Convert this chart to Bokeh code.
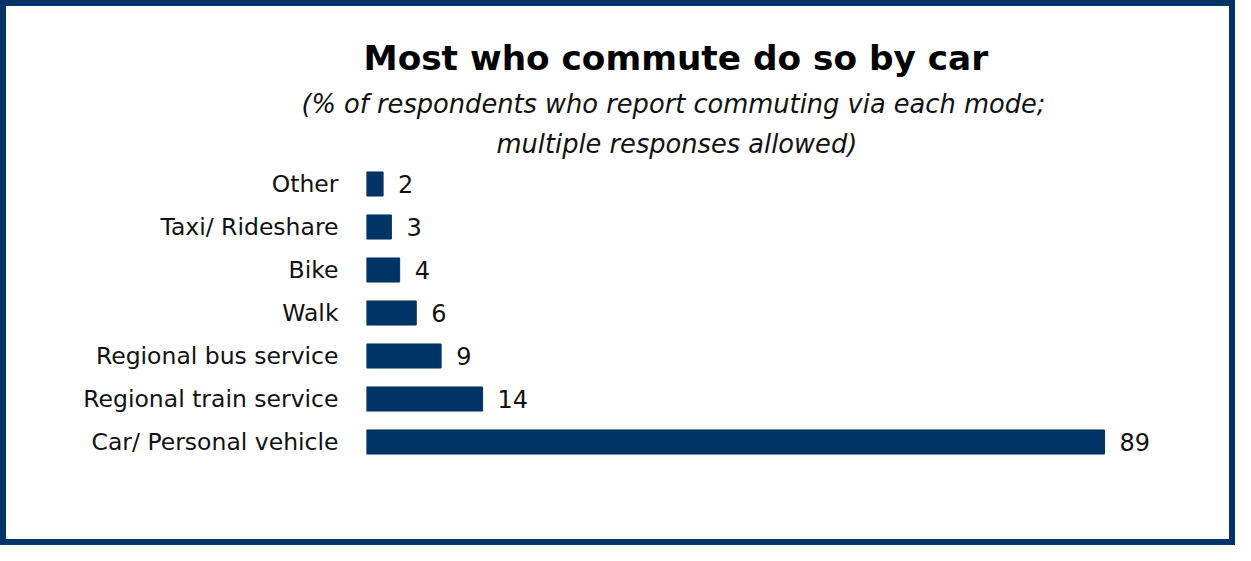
from bokeh.plotting import figure
from bokeh.models import Title, ColumnDataSource, FactorRange, Range1d
from bokeh.embed import file_html
from bokeh.resources import INLINE
from bokeh.core.properties import value

# ---- data ----
categories = ["Car/ Personal vehicle", "Regional train service", "Regional bus service",
              "Walk", "Bike", "Taxi/ Rideshare", "Other"]
values = [89, 14, 9, 6, 4, 3, 2]
title_text = "Most who commute do so by car"
subtitle_line1 = "(% of respondents who report commuting via each mode;"
subtitle_line2 = "multiple responses allowed)"

NAVY = "#003366"
FONT = "DejaVu Sans"

source = ColumnDataSource(dict(cat=categories, val=values, label=[str(v) for v in values]))

p = figure(
    width=1235, height=545,
    y_range=FactorRange(factors=categories, range_padding=0),
    x_range=Range1d(0, 101.3),
    x_axis_location=None,
    toolbar_location=None, tools="",
    output_backend="svg",
    min_border_left=360, min_border_right=35,
    min_border_top=156, min_border_bottom=88,
    background_fill_color="white", border_fill_color="white",
    outline_line_color=None,
    styles={"border": "6px solid " + NAVY},
)

p.hbar(y="cat", right="val", left=0, height=0.56, source=source,
       fill_color=NAVY, line_color=NAVY)
p.text(x="val", y="cat", text="label", source=source, x_offset=15,
       text_baseline="middle", text_align="left",
       text_font=value(FONT), text_font_size="24px", text_color="#111111")

p.xgrid.grid_line_color = None
p.ygrid.grid_line_color = None
ax = p.yaxis[0]
ax.axis_line_color = None
ax.major_tick_line_color = None
ax.minor_tick_line_color = None
ax.major_tick_out = 0
ax.major_tick_in = 0
ax.major_label_standoff = 28
ax.major_label_text_font = FONT
ax.major_label_text_font_size = "23.5px"
ax.major_label_text_color = "#111111"

# titles: first added is closest to the frame
p.add_layout(Title(text=subtitle_line2, align="left", offset=130,
                   text_font=FONT, text_font_size="25.7px", text_font_style="italic",
                   text_color="#111111", standoff=7), "above")
p.add_layout(Title(text=subtitle_line1, align="left", offset=-65,
                   text_font=FONT, text_font_size="25.7px", text_font_style="italic",
                   text_color="#111111", standoff=10), "above")
p.add_layout(Title(text=title_text, align="left", offset=-3,
                   text_font=FONT, text_font_size="34.3px", text_font_style="bold",
                   text_color="#000000", standoff=8), "above")

open("out.html", "w").write(file_html(p, INLINE))
